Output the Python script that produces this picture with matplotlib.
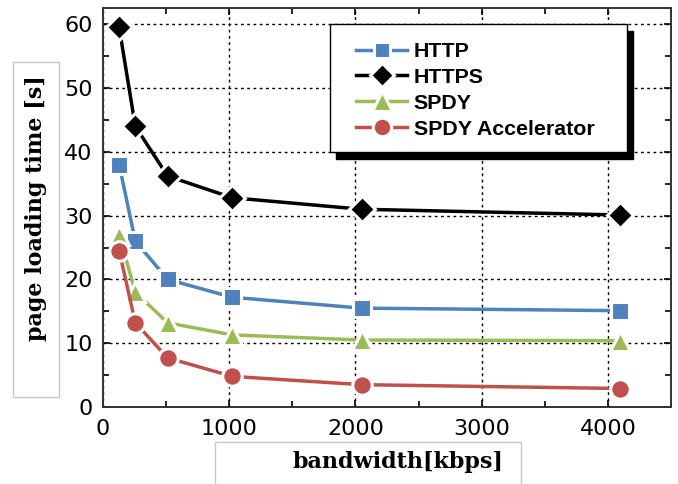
import matplotlib
matplotlib.use("Agg")
import matplotlib.pyplot as plt
from matplotlib.patches import Rectangle
from matplotlib.ticker import MultipleLocator

bandwidth = [128, 256, 512, 1024, 2048, 4096]
http = [38.0, 26.0, 20.0, 17.2, 15.5, 15.1]
https = [59.5, 44.0, 36.2, 32.8, 31.0, 30.1]
spdy = [27.0, 18.0, 13.2, 11.3, 10.5, 10.4]
spdy_acc = [24.5, 13.2, 7.7, 4.8, 3.5, 2.9]

fig = plt.figure(figsize=(6.78, 4.84), dpi=100)
ax = fig.add_axes([103/678, (484-407)/484, (671-103)/678, (407-8.3)/484])

series = [
    ("HTTP", http, "#4F81BD", "s", 12.5),
    ("HTTPS", https, "#000000", "D", 13),
    ("SPDY", spdy, "#9BBB59", "^", 15),
    ("SPDY Accelerator", spdy_acc, "#C0504D", "o", 14),
]
for label, vals, col, mk, ms in series:
    ax.plot(bandwidth, vals, color=col, lw=2.5, marker=mk, ms=ms,
            mfc=col, mec="white", mew=2.2, label=label, zorder=3, clip_on=False)

ax.set_xlim(0, 4500)
ax.set_ylim(0, 62.5)
ax.xaxis.set_major_locator(MultipleLocator(1000))
ax.xaxis.set_minor_locator(MultipleLocator(500))
ax.yaxis.set_major_locator(MultipleLocator(10))
ax.yaxis.set_minor_locator(MultipleLocator(5))
ax.tick_params(which="both", direction="in", top=True, right=True, width=1.2)
ax.tick_params(which="major", length=5, labelsize=16)
ax.tick_params(axis="x", which="major", pad=8.5)
ax.tick_params(axis="y", which="major", pad=7.5)
ax.tick_params(which="minor", length=4)
for lab in ax.get_xticklabels() + ax.get_yticklabels():
    lab.set_fontfamily("DejaVu Sans")
ax.grid(True, which="major", color="black", linestyle=(0, (2, 2.5)), lw=1.0)
for s in ax.spines.values():
    s.set_linewidth(1.4)
    s.set_color("#333333")

# legend frame with shadow
x0, x1 = (330-103)/568, (627-103)/568
y0, y1 = (407-152)/398.7, (407-24)/398.7
ax.add_patch(Rectangle((x0 + 0.011, y0 - 0.018), x1 - x0, y1 - y0, transform=ax.transAxes,
                       facecolor="black", edgecolor="black", zorder=5))
ax.add_patch(Rectangle((x0, y0), x1 - x0, y1 - y0, transform=ax.transAxes,
                       facecolor="white", edgecolor="black", lw=1.0, zorder=6))
leg = ax.legend(loc="upper left", bbox_to_anchor=((356-103)/568, (407-42)/398.7), frameon=False,
                prop={"family": "Liberation Sans", "weight": "bold", "size": 15.4},
                handlelength=2.4, handletextpad=0.3, labelspacing=0.32, borderpad=0.0,
                borderaxespad=0.0, markerscale=0.95)
leg.set_zorder(7)

# axis label boxes
fig.add_artist(Rectangle((13/678, 1 - 397/484), 46/678, 335/484, transform=fig.transFigure,
                         facecolor="white", edgecolor="#c8c8c8", lw=1.0))
fig.text(36/678, 1 - 208/484, "page loading time [s]", rotation=90, ha="center", va="center",
         family="DejaVu Serif", weight="bold", fontsize=16)
fig.add_artist(Rectangle((215/678, -0.01), 306/678, (484-442)/484 + 0.01, transform=fig.transFigure,
                         facecolor="white", edgecolor="#c8c8c8", lw=1.0))
fig.text(398/678, 1 - 462/484, "bandwidth[kbps]", ha="center", va="center",
         family="DejaVu Serif", weight="bold", fontsize=16)

fig.savefig("out.png", dpi=100)
